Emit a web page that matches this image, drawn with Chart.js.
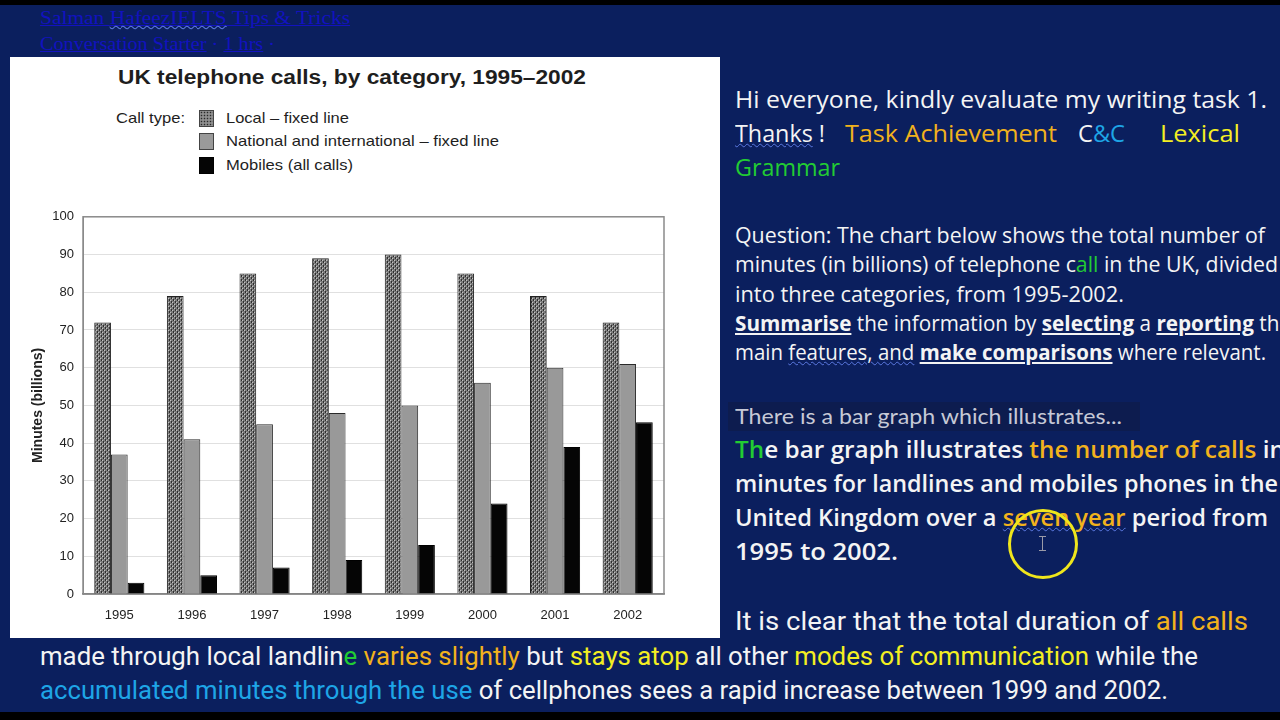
<!DOCTYPE html>
<html><head><meta charset="utf-8">
<script src="https://cdn.jsdelivr.net/npm/chart.js@4.4.0/dist/chart.umd.min.js"></script>
<style>
html,body{margin:0;padding:0;width:1280px;height:720px;overflow:hidden;background:#0b1f5e;position:relative;}
.band{position:absolute;left:0;width:1280px;background:#000;}
.t{position:absolute;white-space:nowrap;width:max-content;line-height:1;transform-origin:0 50%;}
.cm{font-family:'Open Sans','DejaVu Sans',sans-serif;color:#f4f4f4;}
.nb{font-family:'Liberation Sans Narrow','Roboto',sans-serif;color:#f4f4f4;}
.ar{font-family:'Liberation Sans',Arial,sans-serif;color:#1e1e1e;}
.lk{font-family:'Liberation Serif',serif;color:#1212c0;text-decoration:underline;font-size:19px;}
.o{color:#f2b21c}.y{color:#f3ee22}.g{color:#22cc33}.b{color:#1ea5e6}
.u{font-weight:700;text-decoration:underline;}
.sq{text-decoration:underline wavy #5a78e0;text-decoration-thickness:1px;}
#panel{position:absolute;left:10px;top:57px;width:710px;height:581px;background:#fff;}
#wrap{position:absolute;left:10px;top:200px;width:700px;height:440px;}
.sw{position:absolute;left:199px;width:13px;height:15px;border:1px solid #444;}
</style></head>
<body>
<div class="band" style="top:0;height:5px"></div>
<div class="band" style="top:712px;height:8px"></div>

<div class="t lk" style="left:40px;top:8px" data-w="310">Salman <span class="sq">HafeezIELTS</span> Tips &amp; Tricks</div>
<div class="t lk" style="left:40px;top:34px;text-decoration:none" data-w="235"><span style="text-decoration:underline">Conversation Starter</span> · <span style="text-decoration:underline">1 hrs</span> ·</div>

<div id="panel"></div>
<div class="t ar" style="left:118px;top:67px;font-size:20px;font-weight:700" data-w="468">UK telephone calls, by category, 1995–2002</div>
<div class="t ar" style="left:116px;top:110px;font-size:15px" data-w="69">Call type:</div>
<div class="sw" style="top:110px;background:#7a7a7a;background-image:radial-gradient(#2a2a2a 0.7px,transparent 1px),radial-gradient(#c8c8c8 0.6px,transparent 1px);background-size:3px 3px,3px 3px;background-position:0 0,1.5px 1.5px"></div>
<div class="sw" style="top:133px;background:#9a9a9a"></div>
<div class="sw" style="top:157px;background:#050505;border-color:#000"></div>
<div class="t ar" style="left:226px;top:110px;font-size:15px" data-w="123">Local – fixed line</div>
<div class="t ar" style="left:226px;top:133px;font-size:15px" data-w="273">National and international – fixed line</div>
<div class="t ar" style="left:226px;top:157px;font-size:15px" data-w="127">Mobiles (all calls)</div>

<div id="wrap"><canvas id="c" width="700" height="440"></canvas></div>

<div class="t cm" style="left:735px;top:87px;font-size:24px" data-w="532">Hi everyone, kindly evaluate my writing task 1.</div>
<div class="t cm" style="left:735px;top:121px;font-size:24px" data-w="90"><span class="sq">Thanks</span> !</div>
<div class="t cm o" style="left:845px;top:121px;font-size:24px" data-w="212">Task Achievement</div>
<div class="t cm" style="left:1078px;top:121px;font-size:24px" data-w="47">C<span class="b">&amp;C</span></div>
<div class="t cm y" style="left:1160px;top:121px;font-size:24px" data-w="80">Lexical</div>
<div class="t cm g" style="left:735px;top:155px;font-size:24px" data-w="105">Grammar</div>

<div class="t cm" style="left:735px;top:223px;font-size:22px" data-w="530">Question: The chart below shows the total number of</div>
<div class="t cm" style="left:735px;top:252px;font-size:22px" data-w="543">minutes (in billions) of telephone c<span class="g">all</span> in the UK, divided</div>
<div class="t cm" style="left:735px;top:282px;font-size:22px" data-w="389">into three categories, from 1995-2002.</div>
<div class="t cm" style="left:735px;top:311px;font-size:22px" data-w="556"><span class="u">Summarise</span> the information by <span class="u">selecting</span> a <span class="u">reporting</span> the</div>
<div class="t cm" style="left:735px;top:340px;font-size:22px" data-w="531">main <span class="sq">features, and</span> <span class="u">make comparisons</span> where relevant.</div>

<div style="position:absolute;left:728px;top:402px;width:412px;height:29px;background:#0d1c4f"></div>
<div class="t" style="left:735px;top:405px;font-size:21px;font-family:'Lato','Open Sans',sans-serif;color:#c6c9d6" data-w="387">There is a bar graph which illustrates...</div>

<div class="t cm" style="left:735px;top:437px;font-size:24px;font-weight:600" data-w="550"><span class="g">Th</span>e bar graph illustrates <span class="o">the number of calls</span> in</div>
<div class="t cm" style="left:735px;top:471px;font-size:24px;font-weight:600" data-w="543">minutes for landlines and mobiles phones in the</div>
<div class="t cm" style="left:735px;top:505px;font-size:24px;font-weight:600" data-w="533">United Kingdom over a <span class="o sq">seven year</span> period from</div>
<div class="t cm" style="left:735px;top:539px;font-size:24px;font-weight:600" data-w="163">1995 to 2002.</div>

<div style="position:absolute;left:1008px;top:509px;width:64px;height:64px;border:3px solid #efe61c;border-radius:50%"></div>
<div style="position:absolute;left:1042px;top:536px;width:1px;height:15px;background:#9a9aa8"></div>
<div style="position:absolute;left:1039px;top:536px;width:7px;height:1px;background:#9a9aa8"></div>
<div style="position:absolute;left:1039px;top:550px;width:7px;height:1px;background:#9a9aa8"></div>

<div class="t nb" style="left:735px;top:609px;font-size:25px" data-w="513">It is clear that the total duration of <span class="o">all calls</span></div>
<div class="t nb" style="left:40px;top:644px;font-size:25px" data-w="1158">made through local landlin<span class="g">e</span> <span class="o">varies slightly</span> but <span class="y">stays atop</span> all other <span class="y">modes of communication</span> while the</div>
<div class="t nb" style="left:40px;top:678px;font-size:25px" data-w="1128"><span class="b">accumulated minutes through the use</span> of cellphones sees a rapid increase between 1999 and 2002.</div>

<script>
const years = ['1995','1996','1997','1998','1999','2000','2001','2002'];
const localFixed = [72, 79, 85, 89, 90, 85, 79, 72];
const nationalFixed = [37, 41, 45, 48, 50, 56, 60, 61];
const mobiles = [3, 5, 7, 9, 13, 24, 39, 45.5];
const seriesLabels = ['Local – fixed line','National and international – fixed line','Mobiles (all calls)'];
const yMin = 0, yMax = 100, yStep = 10;

document.querySelectorAll('.t[data-w]').forEach(el => {
  const w = el.getBoundingClientRect().width;
  el.style.transform = 'scaleX(' + (parseFloat(el.dataset.w) / w) + ')';
});

function stipple() {
  const c = document.createElement('canvas'); c.width = 4; c.height = 4;
  const g = c.getContext('2d');
  g.fillStyle = '#7c7c7c'; g.fillRect(0,0,4,4);
  g.fillStyle = '#c4c4c4'; g.fillRect(0,0,1,1); g.fillRect(2,2,1,1);
  g.fillStyle = '#2e2e2e'; g.fillRect(1,1,1,1); g.fillRect(3,3,1,1); g.fillRect(3,0,1,1); g.fillRect(1,2,1,1);
  return g.createPattern(c, 'repeat');
}

const boxPlugin = {
  id: 'box',
  beforeDatasetsDraw(chart) {
    const a = chart.chartArea, ctx = chart.ctx;
    ctx.save(); ctx.strokeStyle = '#8a8a8a'; ctx.lineWidth = 1.5;
    ctx.strokeRect(a.left, a.top, a.right - a.left, a.bottom - a.top);
    ctx.restore();
  }
};

const font = {family: "'Liberation Sans', Arial, sans-serif", size: 13};
new Chart(document.getElementById('c'), {
  type: 'bar',
  data: {
    labels: years,
    datasets: [
      {label: seriesLabels[0], data: localFixed, backgroundColor: stipple(), borderColor: '#222', borderWidth: 1},
      {label: seriesLabels[1], data: nationalFixed, backgroundColor: '#999999', borderColor: '#2a2a2a', borderWidth: 1},
      {label: seriesLabels[2], data: mobiles, backgroundColor: '#050505', borderColor: '#000', borderWidth: 1}
    ]
  },
  options: {
    responsive: false, animation: false, devicePixelRatio: 1,
    layout: {padding: {left: 0, right: 46, top: 14, bottom: 0}},
    plugins: {legend: {display: false}, tooltip: {enabled: false}},
    datasets: {bar: {categoryPercentage: 0.69, barPercentage: 1.0}},
    scales: {
      x: {
        grid: {display: false, drawTicks: false},
        border: {color: '#777', width: 1.5},
        ticks: {color: '#222', font: font, padding: 14, maxRotation: 0},
        afterFit(s) { s.height = 46; }
      },
      y: {
        min: yMin, max: yMax,
        ticks: {stepSize: yStep, color: '#222', font: font, padding: 9},
        grid: {color: '#e0e0e0', drawTicks: false},
        border: {color: '#888'},
        title: {display: true, text: 'Minutes (billions)', color: '#222',
                font: {family: font.family, size: 14, weight: 'bold'}, padding: {top: 20, bottom: 0}},
        afterFit(s) { s.width = 73; }
      }
    }
  },
  plugins: [boxPlugin]
});
</script>
</body></html>
